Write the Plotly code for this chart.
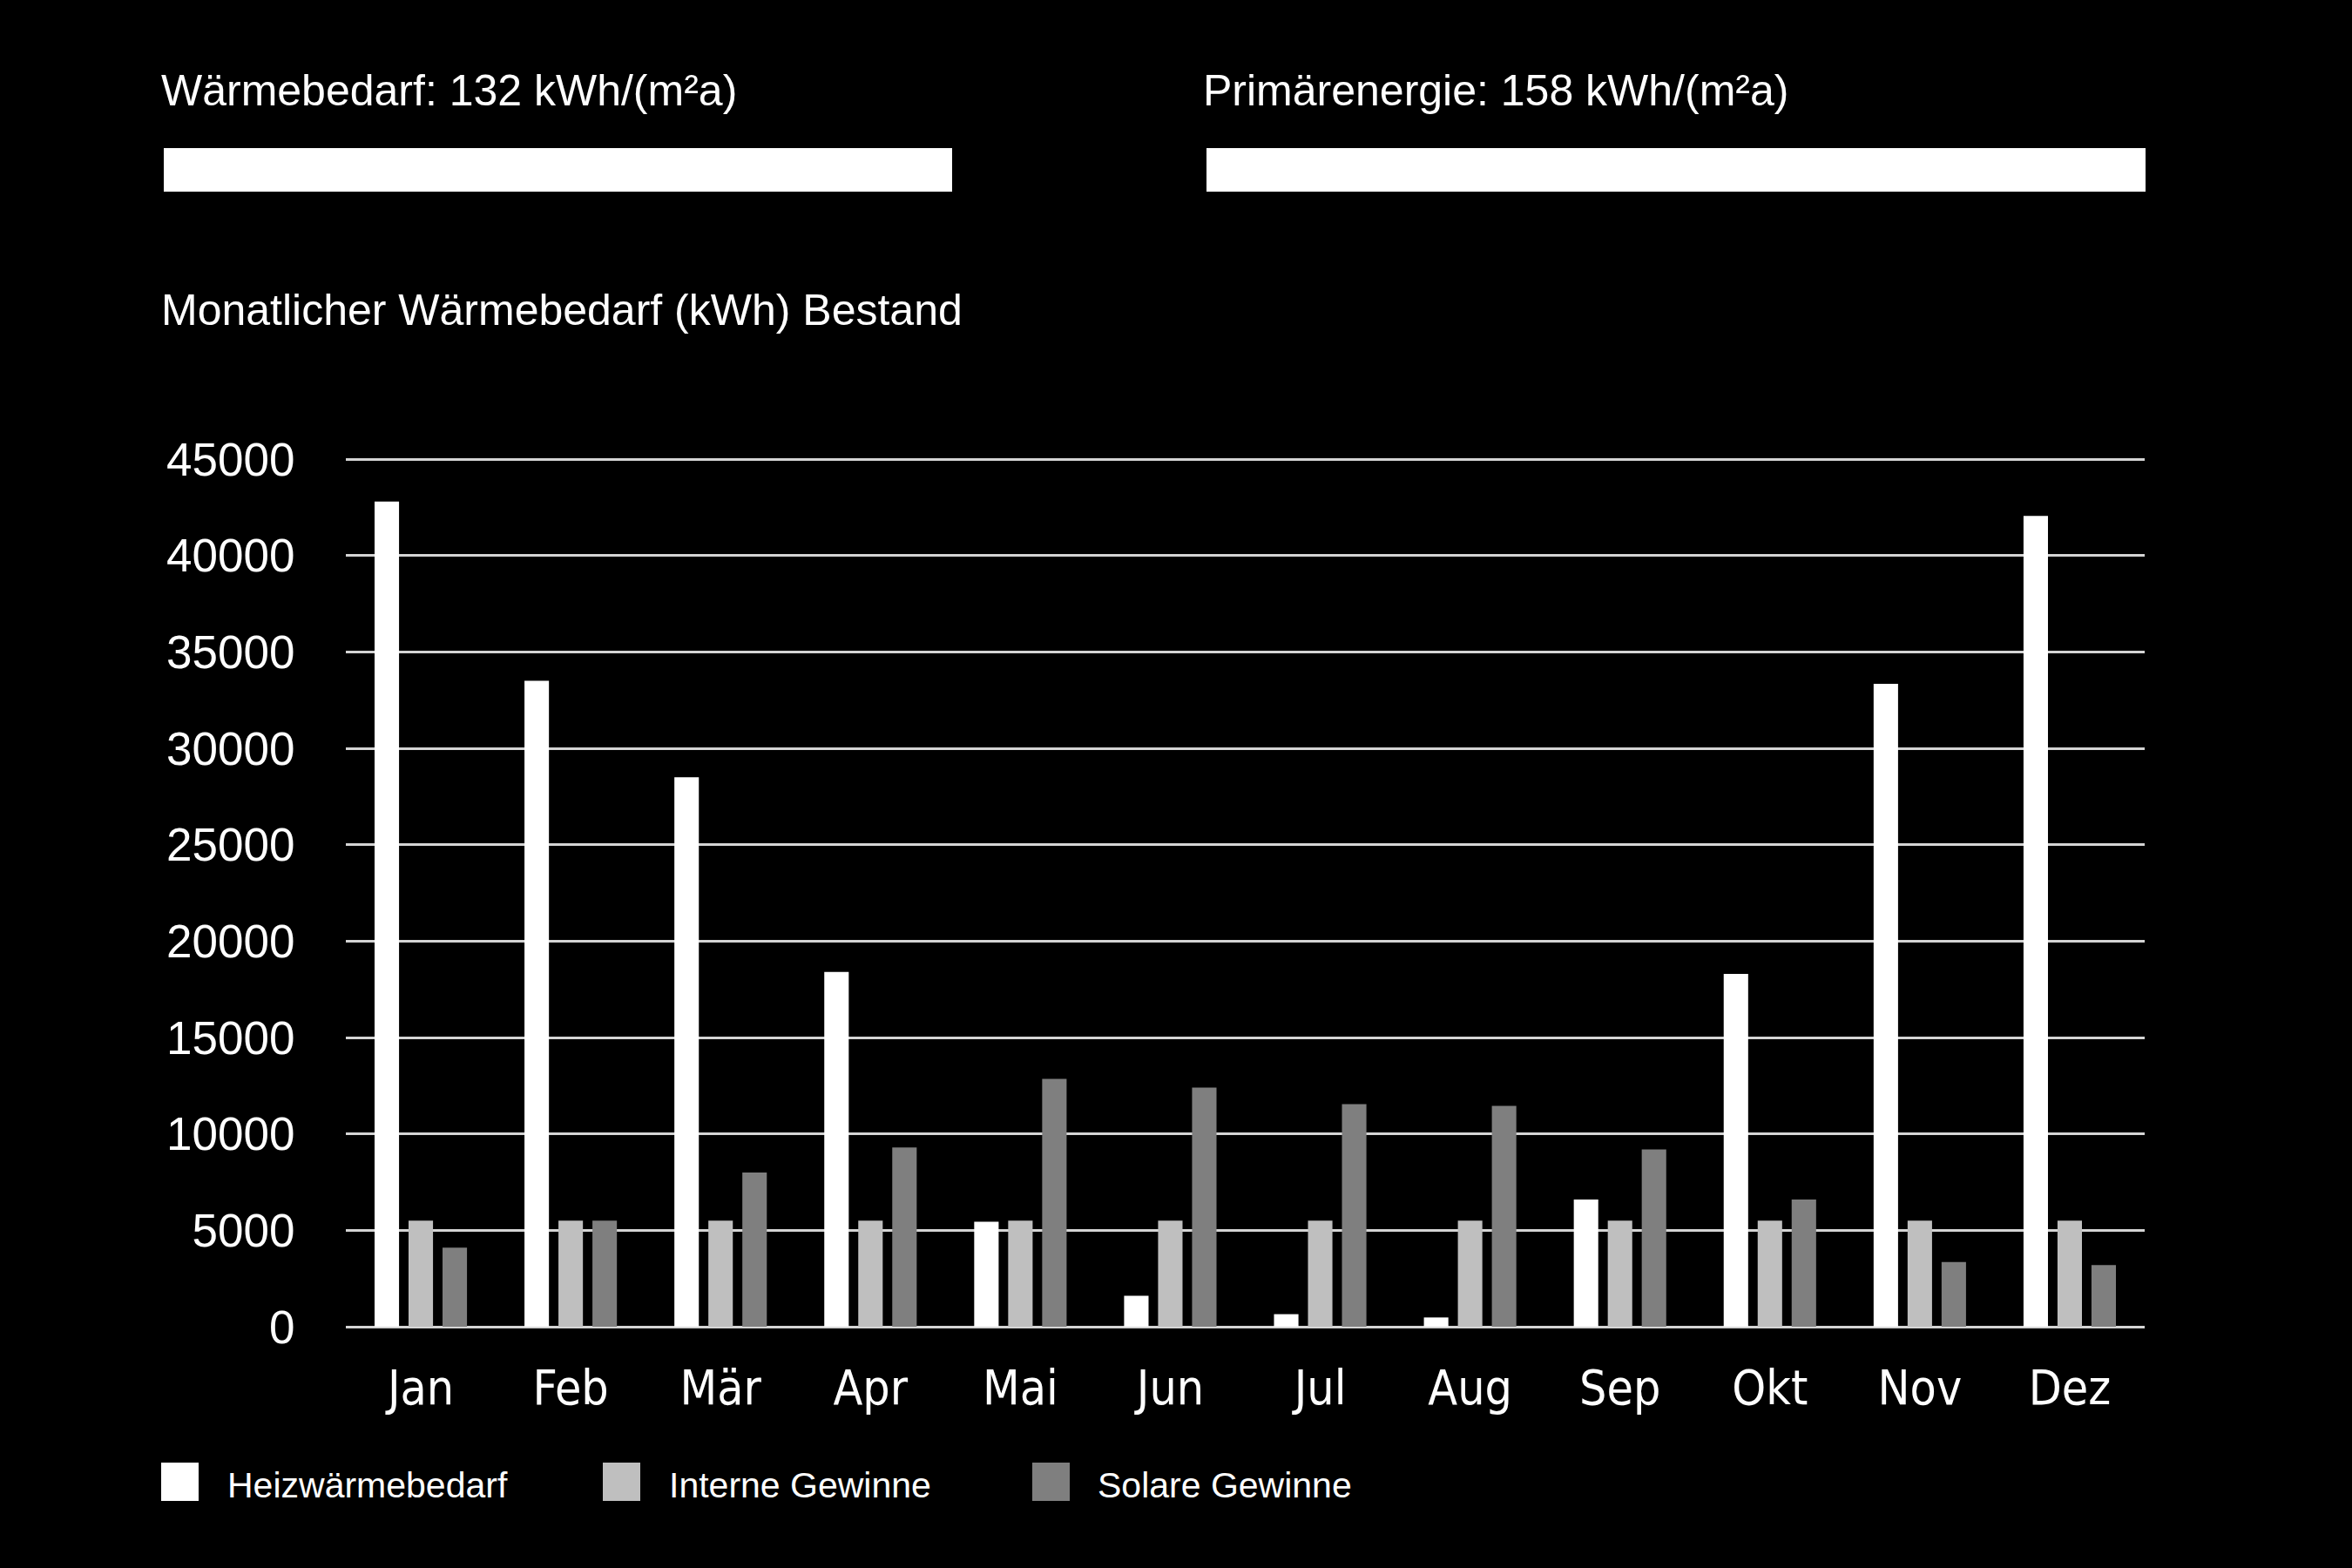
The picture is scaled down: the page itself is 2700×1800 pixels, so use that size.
import plotly.graph_objects as go

months = ["Jan", "Feb", "Mär", "Apr", "Mai", "Jun", "Jul", "Aug", "Sep", "Okt", "Nov", "Dez"]
heizwaermebedarf = [42800, 33500, 28500, 18400, 5450, 1600, 650, 480, 6600, 18300, 33350, 42050]
interne_gewinne = [5500, 5500, 5500, 5500, 5500, 5500, 5500, 5500, 5500, 5500, 5500, 5500]
solare_gewinne = [4100, 5500, 8000, 9300, 12850, 12400, 11550, 11450, 9200, 6600, 3350, 3200]
series_names = ["Heizwärmebedarf", "Interne Gewinne", "Solare Gewinne"]
series_colors = ["#ffffff", "#bfbfbf", "#7f7f7f"]
y_ticks = [0, 5000, 10000, 15000, 20000, 25000, 30000, 35000, 40000, 45000]

W, H = 2700, 1800
Y_TOP = 45500
L, R, B = 397, 2462, 1523
T = B - (B - 527) * Y_TOP / 45000
PW, PH = R - L, B - T

def px(x):
    return (x - L) / PW

def py(y):
    return (B - y) / PH

ARIAL = "Arial, Liberation Sans, sans-serif"
NARROW = "DejaVu Sans Condensed, Liberation Sans Narrow, Arial Narrow, sans-serif"

fig = go.Figure()
for name, vals, col in zip(series_names, [heizwaermebedarf, interne_gewinne, solare_gewinne], series_colors):
    fig.add_trace(go.Bar(x=months, y=vals, name=name, marker=dict(color=col, line=dict(width=0)),
                         showlegend=False))

fig.update_layout(
    width=W, height=H,
    paper_bgcolor="#000000", plot_bgcolor="#000000",
    margin=dict(l=L, r=W - R, t=T, b=H - B, pad=0),
    barmode="group", bargap=0.32, bargroupgap=0.28,
    font=dict(family=ARIAL, color="#ffffff"),
    xaxis=dict(showgrid=False, zeroline=False, showline=False,
               ticks="outside", ticklen=22, tickcolor="rgba(0,0,0,0)",
               tickfont=dict(family=NARROW, size=55, color="#ffffff")),
    yaxis=dict(range=[0, Y_TOP], tickvals=y_ticks, ticktext=[str(v) for v in y_ticks],
               showgrid=True, gridcolor="#d4d4d4", gridwidth=3,
               zeroline=True, zerolinecolor="#d4d4d4", zerolinewidth=3,
               showline=False, ticks="outside", ticklen=47, tickcolor="rgba(0,0,0,0)",
               tickfont=dict(family=ARIAL, size=53, color="#ffffff")),
)

shapes = []
annotations = []
# Header texts and bars
annotations.append(dict(text="Wärmebedarf: 132 kWh/(m²a)", x=px(183), y=py(104), xref="paper", yref="paper",
                        xanchor="left", yanchor="middle", showarrow=False,
                        font=dict(family=ARIAL, size=50, color="#ffffff")))
annotations.append(dict(text="Primärenergie: 158 kWh/(m²a)", x=px(1379), y=py(104), xref="paper", yref="paper",
                        xanchor="left", yanchor="middle", showarrow=False,
                        font=dict(family=ARIAL, size=50, color="#ffffff")))
shapes.append(dict(type="rect", xref="paper", yref="paper", x0=px(188), x1=px(1093), y0=py(220), y1=py(170),
                   fillcolor="#ffffff", line=dict(width=0)))
shapes.append(dict(type="rect", xref="paper", yref="paper", x0=px(1385), x1=px(2463), y0=py(220), y1=py(170),
                   fillcolor="#ffffff", line=dict(width=0)))
annotations.append(dict(text="Monatlicher Wärmebedarf (kWh) Bestand", x=px(183), y=py(356), xref="paper", yref="paper",
                        xanchor="left", yanchor="middle", showarrow=False,
                        font=dict(family=ARIAL, size=50, color="#ffffff")))

# Custom legend
legend_swatch_x = [185, 692, 1185]
legend_text_x = [259, 766, 1258]
for name, col, sx, tx in zip(series_names, series_colors, legend_swatch_x, legend_text_x):
    shapes.append(dict(type="rect", xref="paper", yref="paper", x0=px(sx), x1=px(sx + 43),
                       y0=py(1723), y1=py(1679), fillcolor=col, line=dict(width=0)))
    annotations.append(dict(text=name, x=px(tx), y=py(1705), xref="paper", yref="paper",
                            xanchor="left", yanchor="middle", showarrow=False,
                            font=dict(family=ARIAL, size=41, color="#ffffff")))

fig.update_layout(shapes=shapes, annotations=annotations)
fig.write_html("out.html", config={"displayModeBar": False},
               post_script="document.body.style.margin='0';document.body.style.background='#000';")
